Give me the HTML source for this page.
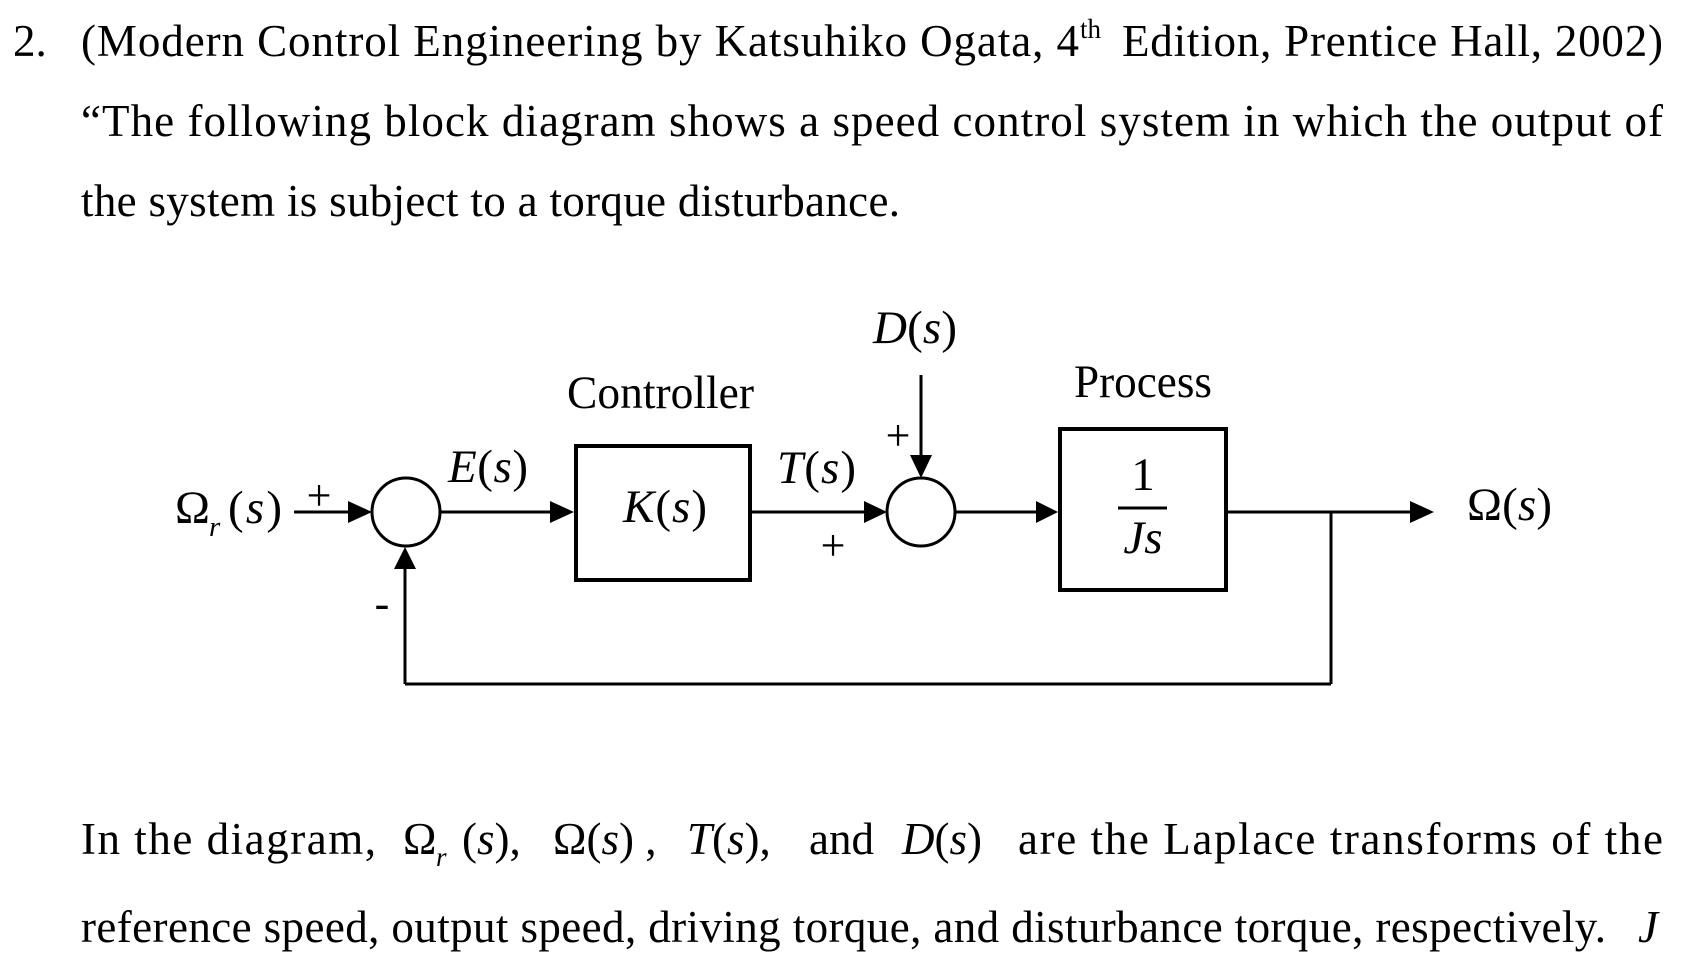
<!DOCTYPE html>
<html><head><meta charset="utf-8"><style>
html,body{margin:0;padding:0;background:#fff;}
svg{display:block;}
text{font-family:"Liberation Serif",serif;fill:#000;}
</style></head><body>
<svg width="1682" height="971" viewBox="0 0 1682 971" xmlns="http://www.w3.org/2000/svg">
<g font-size="45">
<text x="13" y="56">2.</text>
<text x="81" y="56" textLength="998" lengthAdjust="spacing">(Modern Control Engineering by Katsuhiko Ogata, 4</text>
<text x="1080" y="38" font-size="27">th</text>
<text x="1122" y="56" textLength="541" lengthAdjust="spacing">Edition, Prentice Hall, 2002)</text>
<text x="81" y="136" textLength="1582" lengthAdjust="spacing">“The following block diagram shows a speed control system in which the output of</text>
<text x="81" y="216" textLength="819" lengthAdjust="spacing">the system is subject to a torque disturbance.</text>

<text x="81" y="854" textLength="295" lengthAdjust="spacing">In the diagram,</text>
<text x="403" y="854">Ω</text><text x="436" y="866" font-size="27" font-style="italic">r</text>
<text x="462" y="854">(<tspan font-style="italic">s</tspan>),</text>
<text x="553" y="854">Ω(<tspan font-style="italic">s</tspan>) ,</text>
<text x="687" y="854"><tspan font-style="italic">T</tspan>(<tspan font-style="italic">s</tspan>),</text>
<text x="809" y="854">and</text>
<text x="902" y="854"><tspan font-style="italic">D</tspan>(<tspan font-style="italic">s</tspan>)</text>
<text x="1018" y="854" textLength="645" lengthAdjust="spacing">are the Laplace transforms of the</text>
<text x="81" y="942" textLength="1525" lengthAdjust="spacing">reference speed, output speed, driving torque, and disturbance torque, respectively.</text>
<text x="1638" y="942" font-style="italic">J</text>
</g>

<g stroke="#000" fill="none">
<rect x="576" y="446" width="174" height="134" stroke-width="4"/>
<rect x="1060" y="429" width="166" height="161" stroke-width="4"/>
<circle cx="406" cy="512" r="34" stroke-width="3"/>
<circle cx="921" cy="512" r="34" stroke-width="3"/>
<g stroke-width="3">
<line x1="294" y1="512" x2="352" y2="512"/>
<line x1="440" y1="512" x2="555" y2="512"/>
<line x1="752" y1="512" x2="868" y2="512"/>
<line x1="955" y1="512" x2="1040" y2="512"/>
<line x1="1228" y1="512" x2="1414" y2="512"/>
<line x1="921" y1="375" x2="921" y2="458"/>
<line x1="1331" y1="512" x2="1331" y2="684"/>
<line x1="1331" y1="684" x2="405" y2="684"/>
<line x1="405" y1="684" x2="405" y2="565"/>
<line x1="1118" y1="508" x2="1167" y2="508"/>
</g>
</g>
<g fill="#000">
<polygon points="372,512 348,501 348,523"/>
<polygon points="574,512 550,501 550,523"/>
<polygon points="887,512 864,501 864,523"/>
<polygon points="1058,512 1036,501 1036,523"/>
<polygon points="1434,512 1410,501 1410,523"/>
<polygon points="921,478 910,455 932,455"/>
<polygon points="405,547 394,569 416,569"/>
</g>

<g font-size="47">
<text x="175" y="523">Ω</text><text x="209" y="536" font-size="29" font-style="italic">r</text>
<text x="228" y="523" textLength="54" lengthAdjust="spacing">(<tspan font-style="italic">s</tspan>)</text>
<text x="319" y="510" font-size="44" text-anchor="middle">+</text>
<text x="382" y="618" font-size="44" text-anchor="middle">-</text>
<text x="448" y="482" textLength="80" lengthAdjust="spacing"><tspan font-style="italic">E</tspan>(<tspan font-style="italic">s</tspan>)</text>
<text x="567" y="408" textLength="187" lengthAdjust="spacingAndGlyphs">Controller</text>
<text x="623" y="522" textLength="84" lengthAdjust="spacing"><tspan font-style="italic">K</tspan>(<tspan font-style="italic">s</tspan>)</text>
<text x="777" y="483" textLength="79" lengthAdjust="spacing"><tspan font-style="italic">T</tspan>(<tspan font-style="italic">s</tspan>)</text>
<text x="833" y="560" font-size="44" text-anchor="middle">+</text>
<text x="898" y="450" font-size="44" text-anchor="middle">+</text>
<text x="873" y="343" textLength="84" lengthAdjust="spacing"><tspan font-style="italic">D</tspan>(<tspan font-style="italic">s</tspan>)</text>
<text x="1074" y="397" textLength="138" lengthAdjust="spacingAndGlyphs">Process</text>
<text x="1143" y="490" text-anchor="middle">1</text>
<text x="1143" y="553" text-anchor="middle" font-style="italic">Js</text>
<text x="1467" y="520" textLength="85" lengthAdjust="spacing">Ω(<tspan font-style="italic">s</tspan>)</text>
</g>
</svg>
</body></html>
